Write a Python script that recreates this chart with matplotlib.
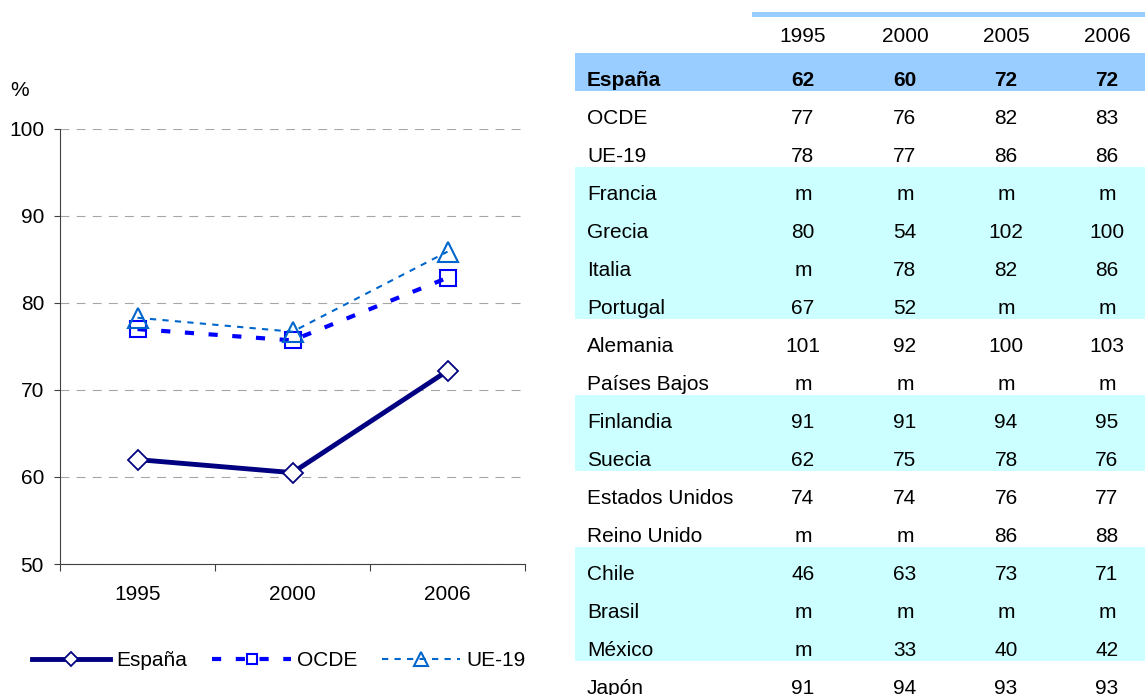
import matplotlib.pyplot as plt
from matplotlib.patches import Rectangle

plt.rcParams['font.family'] = ['Liberation Sans', 'DejaVu Sans']
plt.rcParams['font.size'] = 15

# datos del grafico
years = ['1995', '2000', '2006']
espana = [62.0, 60.5, 72.2]
ocde = [77.0, 75.7, 82.9]
ue19 = [78.3, 76.7, 85.9]

# datos de la tabla
tab_years = ['1995', '2000', '2005', '2006']
paises = ['España', 'OCDE', 'UE-19', 'Francia', 'Grecia', 'Italia', 'Portugal',
          'Alemania', 'Países Bajos', 'Finlandia', 'Suecia', 'Estados Unidos',
          'Reino Unido', 'Chile', 'Brasil', 'México', 'Japón']
v1995 = ['62', '77', '78', 'm', '80', 'm', '67', '101', 'm', '91', '62', '74', 'm', '46', 'm', 'm', '91']
v2000 = ['60', '76', '77', 'm', '54', '78', '52', '92', 'm', '91', '75', '74', 'm', '63', 'm', '33', '94']
v2005 = ['72', '82', '86', 'm', '102', '82', 'm', '100', 'm', '94', '78', '76', '86', '73', 'm', '40', '93']
v2006 = ['72', '83', '86', 'm', '100', '86', 'm', '103', 'm', '95', '76', '77', '88', '71', 'm', '42', '93']
filas_azul = [0]
filas_cian = [3, 4, 5, 6, 9, 10, 13, 14, 15]

W, H = 1145, 695
fig = plt.figure(figsize=(W / 100, H / 100), dpi=100)

# ---- grafico de lineas ----
ax = fig.add_axes([60 / W, 1 - 564 / H, 465 / W, 435 / H])
x = range(len(years))
ax.plot(x, espana, color='#000080', lw=3.5, marker='D', ms=10.5, mfc='white',
        mec='#000080', mew=1.3, label='España', zorder=5)
ax.plot(x, ocde, color='#0000FF', lw=3, ls=(0, (2.2, 3.5)), marker='s', ms=12,
        mfc='none', mec='#0000FF', mew=1.5, label='OCDE', zorder=4)
ax.plot(x, ue19, color='#0066CC', lw=1.5, ls=(0, (3, 3)), marker='^', ms=14.5,
        mfc='none', mec='#0066CC', mew=1.5, label='UE-19', zorder=4)

ax.set_xlim(-0.5, 2.5)
ax.set_ylim(50, 100)
ax.set_yticks([50, 60, 70, 80, 90, 100])
ax.set_xticks([-0.5, 0.5, 1.5, 2.5])
ax.set_xticklabels([])
ax.set_xticks(list(x), minor=True)
ax.set_xticklabels(years, minor=True)
ax.tick_params(axis='x', which='major', direction='out', length=5, color='#404040')
ax.tick_params(axis='x', which='minor', length=0, pad=15)
ax.tick_params(axis='y', direction='out', length=4.5, pad=7, color='#404040')
ax.grid(axis='y', color='#A6A6A6', lw=0.8, ls=(0, (8, 6.5)))
ax.set_axisbelow(True)
for s in ['top', 'right']:
    ax.spines[s].set_visible(False)
ax.spines['left'].set_color('#404040')
ax.spines['bottom'].set_color('#404040')
ax.patch.set_alpha(0)

fig.text(10 / W, 1 - 90 / H, '%', va='center', ha='left')

ax.legend(loc='center', bbox_to_anchor=(279 / W, 1 - 661 / H),
          bbox_transform=fig.transFigure, ncol=3, frameon=False,
          handlelength=3.75, handletextpad=0.3, columnspacing=1.2,
          markerscale=0.65, borderpad=0, borderaxespad=0)

# ---- tabla ----
tab = fig.add_axes([0, 0, 1, 1], zorder=-1)
tab.set_xlim(0, W)
tab.set_ylim(H, 0)
tab.axis('off')

top0, rh = 53, 38
x_left, x_lab = 575, 587
col_x = [803, 905, 1006, 1107]

tab.add_patch(Rectangle((752, 12), W - 752, 4.5, color='#99CCFF', lw=0))
for i in filas_azul:
    tab.add_patch(Rectangle((x_left, top0 + i * rh), W - x_left, rh, color='#99CCFF', lw=0))
for i in filas_cian:
    tab.add_patch(Rectangle((x_left, top0 + i * rh), W - x_left, rh, color='#CCFFFF', lw=0))

for cx, yr in zip(col_x, tab_years):
    tab.text(cx, 42, yr, ha='center', va='baseline')

cols = [v1995, v2000, v2005, v2006]
for i, p in enumerate(paises):
    yb = top0 + i * rh + 33
    fw = 'bold' if i in filas_azul else 'normal'
    tab.text(x_lab, yb, p, ha='left', va='baseline', fontweight=fw)
    for cx, col in zip(col_x, cols):
        tab.text(cx, yb, col[i], ha='center', va='baseline', fontweight=fw)

fig.savefig('out.png', dpi=100)
